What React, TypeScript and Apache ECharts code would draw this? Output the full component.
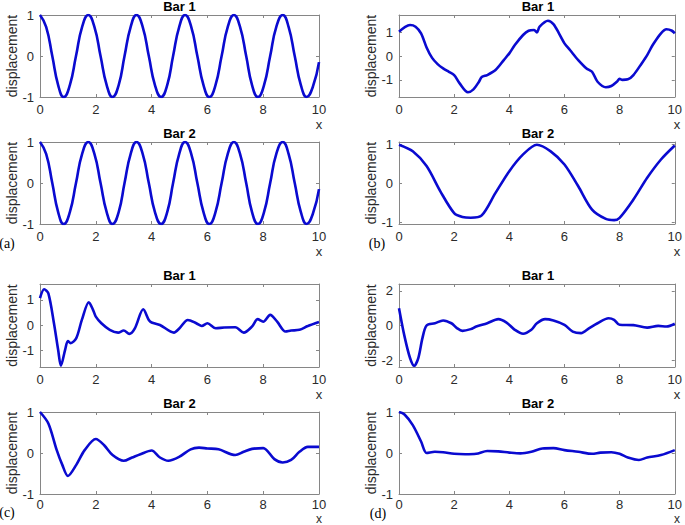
import React, { useEffect, useRef } from "react";
import * as echarts from "echarts";

// ---- tick labels ----
const X_TICKS = [0, 2, 4, 6, 8, 10];
const Y_TICKS_UNIT = [-1, 0, 1];
const Y_TICKS_TWO = [-2, 0, 2];

// ---- panel (a): Bar 1 and Bar 2 (identical) ----
const A_BAR1: [number, number][] = [
  [0, 1], [0.22, 0.71], [0.44, 0], [0.65, -0.71], [0.85, -1], [1.07, -0.71], [1.29, 0], [1.51, 0.71],
  [1.73, 1], [1.95, 0.71], [2.17, 0], [2.39, -0.71], [2.6, -1], [2.82, -0.71], [3.03, 0], [3.25, 0.71],
  [3.46, 1], [3.68, 0.71], [3.9, 0], [4.12, -0.71], [4.34, -1], [4.56, -0.71], [4.77, 0], [4.99, 0.71],
  [5.2, 1], [5.42, 0.71], [5.64, 0], [5.86, -0.71], [6.07, -1], [6.29, -0.71], [6.51, 0], [6.73, 0.71],
  [6.95, 1], [7.17, 0.71], [7.39, 0], [7.6, -0.71], [7.81, -1], [8.03, -0.71], [8.25, 0], [8.47, 0.71],
  [8.7, 1], [8.91, 0.71], [9.13, 0], [9.35, -0.71], [9.56, -1], [9.78, -0.75], [10, -0.15],
];
const A_BAR2: [number, number][] = [
  [0, 1], [0.22, 0.71], [0.44, 0], [0.65, -0.71], [0.85, -1], [1.07, -0.71], [1.29, 0], [1.51, 0.71],
  [1.73, 1], [1.95, 0.71], [2.17, 0], [2.39, -0.71], [2.6, -1], [2.82, -0.71], [3.03, 0], [3.25, 0.71],
  [3.46, 1], [3.68, 0.71], [3.9, 0], [4.12, -0.71], [4.34, -1], [4.56, -0.71], [4.77, 0], [4.99, 0.71],
  [5.2, 1], [5.42, 0.71], [5.64, 0], [5.86, -0.71], [6.07, -1], [6.29, -0.71], [6.51, 0], [6.73, 0.71],
  [6.95, 1], [7.17, 0.71], [7.39, 0], [7.6, -0.71], [7.81, -1], [8.03, -0.71], [8.25, 0], [8.47, 0.71],
  [8.7, 1], [8.91, 0.71], [9.13, 0], [9.35, -0.71], [9.56, -1], [9.78, -0.75], [10, -0.15],
];

// ---- panel (b) ----
const B_BAR1: [number, number][] = [
  [0, 1.02], [0.2, 1.2], [0.4, 1.3], [0.6, 1.23], [0.8, 0.95], [1.0, 0.36], [1.2, -0.08], [1.4, -0.34],
  [1.6, -0.52], [1.8, -0.66], [2.0, -0.8], [2.2, -1.15], [2.5, -1.52], [2.7, -1.4], [2.9, -1.08], [3.0, -0.88],
  [3.2, -0.8], [3.5, -0.59], [3.8, -0.17], [4.0, 0.11], [4.2, 0.46], [4.5, 0.88], [4.7, 1.06], [4.9, 1.09],
  [5.0, 0.99], [5.1, 1.23], [5.4, 1.48], [5.6, 1.34], [5.8, 0.95], [6.0, 0.53], [6.2, 0.25], [6.5, -0.17],
  [6.8, -0.52], [7.0, -0.66], [7.2, -1.08], [7.5, -1.31], [7.7, -1.26], [7.9, -1.08], [8.0, -0.96], [8.1, -1.0],
  [8.3, -0.98], [8.5, -0.8], [8.8, -0.31], [9.0, 0.04], [9.2, 0.46], [9.5, 0.95], [9.7, 1.12], [9.9, 1.06],
  [10, 0.95],
];
const B_BAR2: [number, number][] = [
  [0, 1.0], [0.5, 0.83], [1.0, 0.45], [1.5, -0.2], [2.0, -0.76], [2.3, -0.86], [2.6, -0.88], [3.0, -0.82],
  [3.5, -0.24], [4.0, 0.32], [4.5, 0.75], [5.0, 1.0], [5.5, 0.83], [6.0, 0.49], [6.5, -0.07], [7.0, -0.67],
  [7.5, -0.91], [7.8, -0.94], [8.0, -0.88], [8.5, -0.41], [9.0, 0.15], [9.5, 0.62], [10, 0.98],
];

// ---- panel (c) ----
const C_BAR1: [number, number][] = [
  [0, 1.07], [0.15, 1.42], [0.3, 1.26], [0.5, 0.08], [0.65, -0.97], [0.75, -1.6], [0.9, -0.97], [1.0, -0.62],
  [1.1, -0.71], [1.3, -0.51], [1.5, 0.21], [1.75, 0.91], [1.9, 0.61], [2.0, 0.34], [2.2, 0.08], [2.5, -0.18],
  [2.8, -0.29], [3.0, -0.21], [3.2, -0.34], [3.4, -0.12], [3.7, 0.63], [3.9, 0.21], [4.0, 0.11], [4.3, 0.01],
  [4.8, -0.29], [5.0, -0.12], [5.3, 0.21], [5.6, 0.08], [5.8, -0.03], [6.0, 0.08], [6.3, -0.12], [6.6, -0.09],
  [7.0, -0.08], [7.3, -0.29], [7.6, -0.05], [7.8, 0.24], [8.0, 0.14], [8.25, 0.41], [8.5, 0.14], [8.8, -0.25],
  [9.0, -0.21], [9.3, -0.18], [9.6, -0.03], [10, 0.13],
];
const C_BAR2: [number, number][] = [
  [0, 1.0], [0.3, 0.72], [0.6, 0.07], [0.8, -0.29], [1.0, -0.56], [1.3, -0.29], [1.6, 0.07], [2.0, 0.34],
  [2.3, 0.19], [2.6, -0.05], [3.0, -0.19], [3.3, -0.11], [3.6, -0.03], [4.0, 0.06], [4.3, -0.11], [4.6, -0.19],
  [5.0, -0.09], [5.4, 0.09], [5.7, 0.13], [6.0, 0.11], [6.4, 0.09], [7.0, -0.05], [7.3, 0.03], [7.6, 0.1],
  [8.0, 0.12], [8.4, -0.15], [8.7, -0.23], [9.0, -0.17], [9.3, 0.03], [9.6, 0.15], [10, 0.15],
];

// ---- panel (d) ----
const D_BAR1: [number, number][] = [
  [0, 1.0], [0.2, -0.63], [0.4, -1.88], [0.55, -2.33], [0.7, -1.88], [0.85, -0.73], [1.0, 0.0], [1.3, 0.13],
  [1.6, 0.29], [1.9, 0.13], [2.1, -0.15], [2.3, -0.31], [2.6, -0.21], [2.8, -0.06], [3.2, 0.13], [3.6, 0.37],
  [3.9, 0.17], [4.2, -0.25], [4.5, -0.48], [4.8, -0.25], [5.0, 0.13], [5.3, 0.37], [5.6, 0.29], [6.0, 0.04],
  [6.3, -0.35], [6.6, -0.44], [6.9, -0.15], [7.2, 0.13], [7.6, 0.42], [7.8, 0.33], [8.0, 0.04], [8.5, 0.02],
  [9.0, -0.12], [9.4, -0.02], [9.7, -0.06], [10, 0.1],
];
const D_BAR2: [number, number][] = [
  [0, 1.0], [0.2, 0.94], [0.5, 0.68], [0.8, 0.28], [1.0, 0.0], [1.3, 0.03], [1.6, 0.02], [2.0, -0.02],
  [2.4, -0.03], [2.8, -0.02], [3.2, 0.05], [3.6, 0.04], [4.0, 0.01], [4.4, -0.01], [4.8, 0.03], [5.2, 0.11],
  [5.6, 0.12], [6.0, 0.07], [6.5, 0.03], [7.0, -0.02], [7.3, 0.01], [7.7, 0.02], [8.0, -0.02], [8.3, -0.11],
  [8.7, -0.17], [9.0, -0.11], [9.5, -0.05], [10, 0.07],
];

const TITLES = ["Bar 1", "Bar 2", "Bar 1", "Bar 2", "Bar 1", "Bar 2", "Bar 1", "Bar 2"];
const SERIES_DATA = [A_BAR1, A_BAR2, B_BAR1, B_BAR2, C_BAR1, C_BAR2, D_BAR1, D_BAR2];
const Y_MIN = [-1, -1, -1.72, -1.04, -1.65, -1, -2.4, -1];
const Y_MAX = [1, 1, 1.72, 1.07, 1.63, 1, 2.4, 1];
const Y_TICKS = [Y_TICKS_UNIT, Y_TICKS_UNIT, Y_TICKS_UNIT, Y_TICKS_UNIT, Y_TICKS_UNIT, Y_TICKS_UNIT, Y_TICKS_TWO, Y_TICKS_UNIT];
const PANEL_LETTERS = ["(a)", "(b)", "(c)", "(d)"];

// layout (left, top, width, height) of each plot box
const GRIDS = [
  [40, 15, 279, 82],
  [40, 142, 279, 82],
  [399, 15, 278, 82],
  [399, 142, 278, 82],
  [40, 284, 279, 83],
  [40, 412, 279, 82],
  [399, 284, 278, 83],
  [399, 412, 278, 82],
];
const IS_LAST_ROW = [false, false, false, false, false, true, false, true];
const LETTER_POS = [
  [7, 243],
  [377, 243],
  [7, 512],
  [378, 513],
];

const LINE_COLOR = "#0a0ad0";
const AXIS_COLOR = "#868686";
const LABEL_COLOR = "#2b2b2b";
const FONT = "Liberation Sans, Arial, Helvetica, sans-serif";

export default function App() {
  const ref = useRef<HTMLDivElement>(null);
  useEffect(() => {
    if (!ref.current) return;
    const chart = echarts.init(ref.current, undefined, { renderer: "svg" });
    const n = GRIDS.length;
    const grid = GRIDS.map(([l, t, w, h]) => ({ left: l, top: t, width: w, height: h, containLabel: false }));
    const xAxis: any[] = [];
    const yAxis: any[] = [];
    for (let i = 0; i < n; i++) {
      xAxis.push({
        type: "value",
        gridIndex: i,
        min: 0,
        max: 10,
        interval: 2,
        position: "bottom",
        axisLine: { show: true, onZero: false, lineStyle: { color: AXIS_COLOR, width: 1 } },
        axisTick: { show: true, inside: true, length: 3, lineStyle: { color: AXIS_COLOR }, customValues: X_TICKS },
        axisLabel: {
          show: true,
          margin: IS_LAST_ROW[i] ? 4 : 6,
          color: LABEL_COLOR,
          fontSize: 13,
          lineHeight: 13,
          fontFamily: FONT,
          customValues: X_TICKS,
        },
        splitLine: { show: false },
      });
      yAxis.push({
        type: "value",
        gridIndex: i,
        min: Y_MIN[i],
        max: Y_MAX[i],
        position: "left",
        name: "displacement",
        nameLocation: "middle",
        nameGap: 21,
        nameRotate: 90,
        nameTextStyle: { color: LABEL_COLOR, fontSize: 14, fontFamily: FONT },
        axisLine: { show: true, onZero: false, lineStyle: { color: AXIS_COLOR, width: 1 } },
        axisTick: { show: true, inside: true, length: 3, lineStyle: { color: AXIS_COLOR }, customValues: Y_TICKS[i] },
        axisLabel: { show: true, margin: 6, color: LABEL_COLOR, fontSize: 13, fontFamily: FONT, customValues: Y_TICKS[i] },
        splitLine: { show: false },
      });
    }
    // mirrored box axes (top / right)
    for (let i = 0; i < n; i++) {
      xAxis.push({
        type: "value",
        gridIndex: i,
        min: 0,
        max: 10,
        interval: 2,
        position: "top",
        axisLine: { show: true, onZero: false, lineStyle: { color: AXIS_COLOR, width: 1 } },
        axisTick: { show: true, inside: true, length: 3, lineStyle: { color: AXIS_COLOR }, customValues: X_TICKS },
        axisLabel: { show: false },
        splitLine: { show: false },
      });
      yAxis.push({
        type: "value",
        gridIndex: i,
        min: Y_MIN[i],
        max: Y_MAX[i],
        position: "right",
        axisLine: { show: true, onZero: false, lineStyle: { color: AXIS_COLOR, width: 1 } },
        axisTick: { show: true, inside: true, length: 3, lineStyle: { color: AXIS_COLOR }, customValues: Y_TICKS[i] },
        axisLabel: { show: false },
        splitLine: { show: false },
      });
    }
    const series = SERIES_DATA.map((d, i) => ({
      type: "line",
      xAxisIndex: i,
      yAxisIndex: i,
      data: d,
      showSymbol: false,
      smooth: i < 2 ? 0.5 : 0.3,
      lineStyle: { color: LINE_COLOR, width: 2.6 },
      itemStyle: { color: LINE_COLOR },
      silent: true,
    }));
    const graphic: any[] = [];
    GRIDS.forEach(([l, t, w, h], i) => {
      graphic.push({
        type: "text",
        x: l + w / 2,
        y: t - 9,
        style: { text: TITLES[i], font: `bold 13px ${FONT}`, fill: "#000", align: "center", verticalAlign: "middle" },
      });
      graphic.push({
        type: "text",
        x: l + w,
        y: IS_LAST_ROW[i] ? 525 : t + h + 21,
        style: {
          text: "x",
          font: `${IS_LAST_ROW[i] ? 12 : 13}px ${FONT}`,
          lineHeight: IS_LAST_ROW[i] ? 12 : 13,
          fill: LABEL_COLOR,
          align: "center",
          verticalAlign: IS_LAST_ROW[i] ? "bottom" : "top",
        },
      });
    });
    LETTER_POS.forEach(([x, y], i) => {
      graphic.push({
        type: "text",
        x,
        y,
        style: { text: PANEL_LETTERS[i], font: `14px "Liberation Serif", "Times New Roman", serif`, fill: "#000", align: "center", verticalAlign: "middle" },
      });
    });
    chart.setOption({
      animation: false,
      backgroundColor: "#ffffff",
      grid,
      xAxis,
      yAxis,
      series,
      graphic,
    });
    return () => chart.dispose();
  }, []);
  return <div ref={ref} style={{ position: "fixed", left: 0, top: 0, width: 685, height: 525 }} />;
}
